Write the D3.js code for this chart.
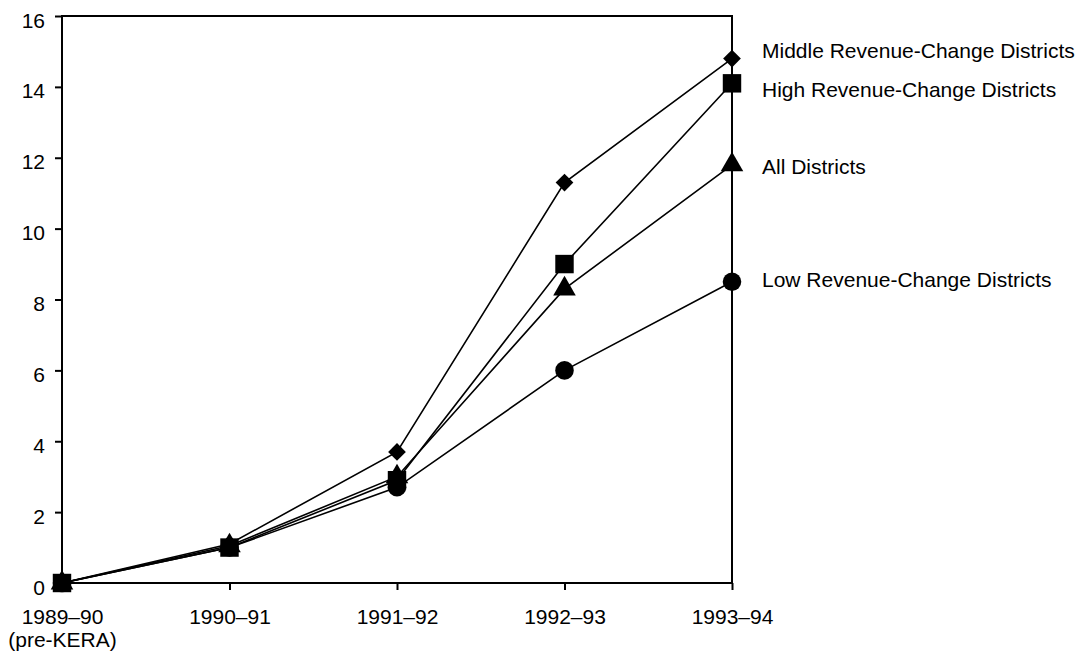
<!DOCTYPE html>
<html><head><meta charset="utf-8">
<script src="https://cdn.jsdelivr.net/npm/d3@7"></script>
<style>body{margin:0;background:#fff}svg{display:block}text{font-family:"Liberation Sans",Arial,sans-serif;font-size:21px;fill:#000}</style>
</head><body><svg id="c" width="1081" height="656"></svg>
<script>
const categories = ["1989\u201390", "1990\u201391", "1991\u201392", "1992\u201393", "1993\u201394"];
const categorySub = ["(pre-KERA)", "", "", "", ""];
const yTicks = [0, 2, 4, 6, 8, 10, 12, 14, 16];
const middleValues = [0, 1.1, 3.7, 11.3, 14.8];
const highValues = [0, 1.0, 2.9, 9.0, 14.1];
const allValues = [0, 1.05, 3.0, 8.3, 11.8];
const lowValues = [0, 1.0, 2.7, 6.0, 8.5];
const seriesNames = ["Middle Revenue-Change Districts", "High Revenue-Change Districts", "All Districts", "Low Revenue-Change Districts"];
const seriesSymbols = ["diamond", "square", "triangle", "circle"];
// label baseline offsets (px) from each series' last point
const labelOffsets = [-0.5, 13.4, 9.4, 5.5];

const seriesValues = [middleValues, highValues, allValues, lowValues];
const series = seriesNames.map((n, i) => ({name: n, values: seriesValues[i], sym: seriesSymbols[i], off: labelOffsets[i]})).reverse();

const svg = d3.select("#c");
const L = 62, R = 732, T = 16, B = 583;
const x = d3.scalePoint().domain(categories).range([L, R]);
const y = d3.scaleLinear().domain([0, 16]).range([B, T]);
const FONT = "Liberation Sans, Arial, sans-serif";

// frame
svg.append("rect").attr("x", L).attr("y", T).attr("width", R - L).attr("height", B - T)
  .attr("fill", "none").attr("stroke", "#000").attr("stroke-width", 2);

// y axis
const ya = svg.append("g").attr("transform", `translate(${L},0)`)
  .call(d3.axisLeft(y).tickValues(yTicks).tickSize(7).tickPadding(10).tickFormat(d3.format("d")));
ya.select(".domain").remove();
ya.selectAll("line").attr("stroke-width", 2);
ya.selectAll("text").style("font-size", "21px").style("font-family", FONT).attr("dy", null).attr("y", 11);

// x axis
const xa = svg.append("g").attr("transform", `translate(0,${B})`)
  .call(d3.axisBottom(x).tickSize(7).tickPadding(12));
xa.select(".domain").remove();
xa.selectAll("line").attr("stroke-width", 2);
xa.selectAll("text").style("font-size", "21px").style("font-family", FONT).attr("dy", null).attr("y", 41);
xa.selectAll(".tick").each(function(d, i) {
  if (categorySub[i]) {
    d3.select(this).append("text").attr("y", 64).attr("fill", "#000")
      .attr("text-anchor", "middle")
      .style("font-size", "21px").style("font-family", FONT)
      .text(categorySub[i]);
  }
});

const line = d3.line().x((d, i) => x(categories[i])).y(d => y(d));
const symMap = {
  diamond: d3.symbol().type(d3.symbolDiamond2).size(200),
  square: d3.symbol().type(d3.symbolSquare).size(340),
  triangle: d3.symbol().type(d3.symbolTriangle).size(220),
  circle: d3.symbol().type(d3.symbolCircle).size(270),
};

series.forEach(s => {
  svg.append("path").attr("d", line(s.values)).attr("fill", "none")
    .attr("stroke", "#000").attr("stroke-width", 1.6);
});
series.forEach(s => {
  svg.append("g").selectAll("path").data(s.values).join("path")
    .attr("transform", (d, i) => `translate(${x(categories[i])},${y(d)})`)
    .attr("d", symMap[s.sym]()).attr("fill", "#000");
  svg.append("text").attr("x", 762).attr("y", y(s.values[s.values.length - 1]) + s.off)
    .text(s.name);
});
</script></body></html>
